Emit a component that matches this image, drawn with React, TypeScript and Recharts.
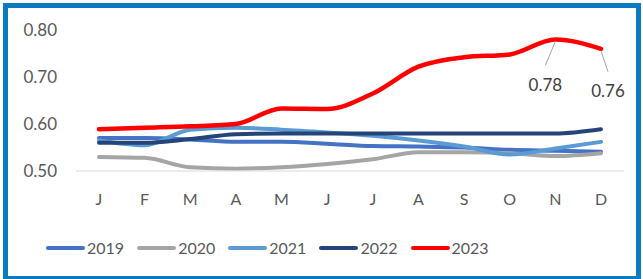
import React from 'react';
import { LineChart, Line, XAxis, YAxis, Legend, LabelList } from 'recharts';

const months = ['J', 'F', 'M', 'A', 'M', 'J', 'J', 'A', 'S', 'O', 'N', 'D'];
const y2019 = [0.57, 0.57, 0.567, 0.562, 0.562, 0.558, 0.553, 0.552, 0.55, 0.545, 0.543, 0.541];
const y2020 = [0.53, 0.528, 0.508, 0.505, 0.508, 0.515, 0.525, 0.54, 0.54, 0.538, 0.532, 0.538];
const y2021 = [0.565, 0.555, 0.588, 0.592, 0.588, 0.582, 0.575, 0.565, 0.552, 0.535, 0.548, 0.562];
const y2022 = [0.56, 0.56, 0.568, 0.578, 0.58, 0.58, 0.58, 0.58, 0.58, 0.58, 0.58, 0.589];
const y2023 = [0.589, 0.592, 0.595, 0.6, 0.633, 0.632, 0.665, 0.722, 0.742, 0.748, 0.78, 0.76];
const yTicks = [0.5, 0.6, 0.7, 0.8];

const series = [
  { key: 'y2019', name: '2019', color: '#4472C4' },
  { key: 'y2020', name: '2020', color: '#A5A5A5' },
  { key: 'y2021', name: '2021', color: '#5B9BD5' },
  { key: 'y2022', name: '2022', color: '#264478' },
  { key: 'y2023', name: '2023', color: '#FF0000' },
];

const data = months.map((m, i) => ({
  month: m,
  y2019: y2019[i],
  y2020: y2020[i],
  y2021: y2021[i],
  y2022: y2022[i],
  y2023: y2023[i],
}));

const FONT = 'Lato, "Open Sans", sans-serif';

// labels only on the last two red points, with a short leader line
const RedLabel = (props: any) => {
  const { x, y, value, index } = props;
  if (index < 10) return null;
  const dx = index === 10 ? -10 : 7;
  const dy = index === 10 ? 45 : 42;
  return (
    <g>
      <line x1={x} y1={y + 2} x2={x + dx} y2={y + dy - 19} stroke="#A6A6A6" strokeWidth={1} />
      <text
        x={x + dx}
        y={y + dy}
        textAnchor="middle"
        dominantBaseline="central"
        fontSize={17}
        fill="#404040"
        fontFamily={FONT}
      >
        {Number(value).toFixed(2)}
      </text>
    </g>
  );
};

const renderLegend = () => (
  <div style={{ display: 'flex', alignItems: 'center', paddingLeft: 46, fontFamily: FONT }}>
    {series.map((s) => (
      <div key={s.key} style={{ display: 'flex', alignItems: 'center', marginRight: 13 }}>
        <span
          style={{
            display: 'inline-block',
            width: 39,
            height: 4,
            borderRadius: 2,
            background: s.color,
            marginRight: 2,
          }}
        />
        <span style={{ fontSize: 16, color: '#595959' }}>{s.name}</span>
      </div>
    ))}
  </div>
);

export default function App() {
  return (
    <div style={{ position: 'fixed', left: 0, top: 0, width: 643, height: 279, background: '#fff' }}>
      <LineChart
        width={643}
        height={279}
        data={data}
        margin={{ top: 30, right: 19, left: 0, bottom: 78 }}
      >
        <XAxis
          dataKey="month"
          axisLine={{ stroke: '#D9D9D9', strokeWidth: 1 }}
          tickLine={false}
          height={30}
          interval={0}
          padding={{ left: 23, right: 23 }}
          tickMargin={17}
          tick={{ fontSize: 16, fill: '#595959', fontFamily: FONT }}
        />
        <YAxis
          domain={[0.5, 0.8]}
          ticks={yTicks}
          width={76}
          axisLine={false}
          tickLine={false}
          tickMargin={13}
          tickFormatter={(v: number) => v.toFixed(2)}
          tick={{ fontSize: 17, fill: '#595959', fontFamily: FONT }}
        />
        <Legend
          layout="horizontal"
          verticalAlign="middle"
          align="center"
          content={renderLegend}
          wrapperStyle={{ top: 238, left: 0, width: 643 }}
        />
        {series.map((s) => (
          <Line
            key={s.key}
            type="monotone"
            dataKey={s.key}
            name={s.name}
            stroke={s.color}
            strokeWidth={s.key === 'y2023' ? 4.5 : 4}
            strokeLinecap="round"
            dot={false}
            activeDot={false}
            isAnimationActive={false}
          >
            {s.key === 'y2023' && <LabelList dataKey={s.key} content={RedLabel} />}
          </Line>
        ))}
      </LineChart>
      <div
        style={{
          position: 'absolute',
          left: 3,
          top: 3,
          width: 638,
          height: 278,
          border: '5px solid #0A7BC1',
          boxSizing: 'border-box',
          pointerEvents: 'none',
        }}
      />
    </div>
  );
}
